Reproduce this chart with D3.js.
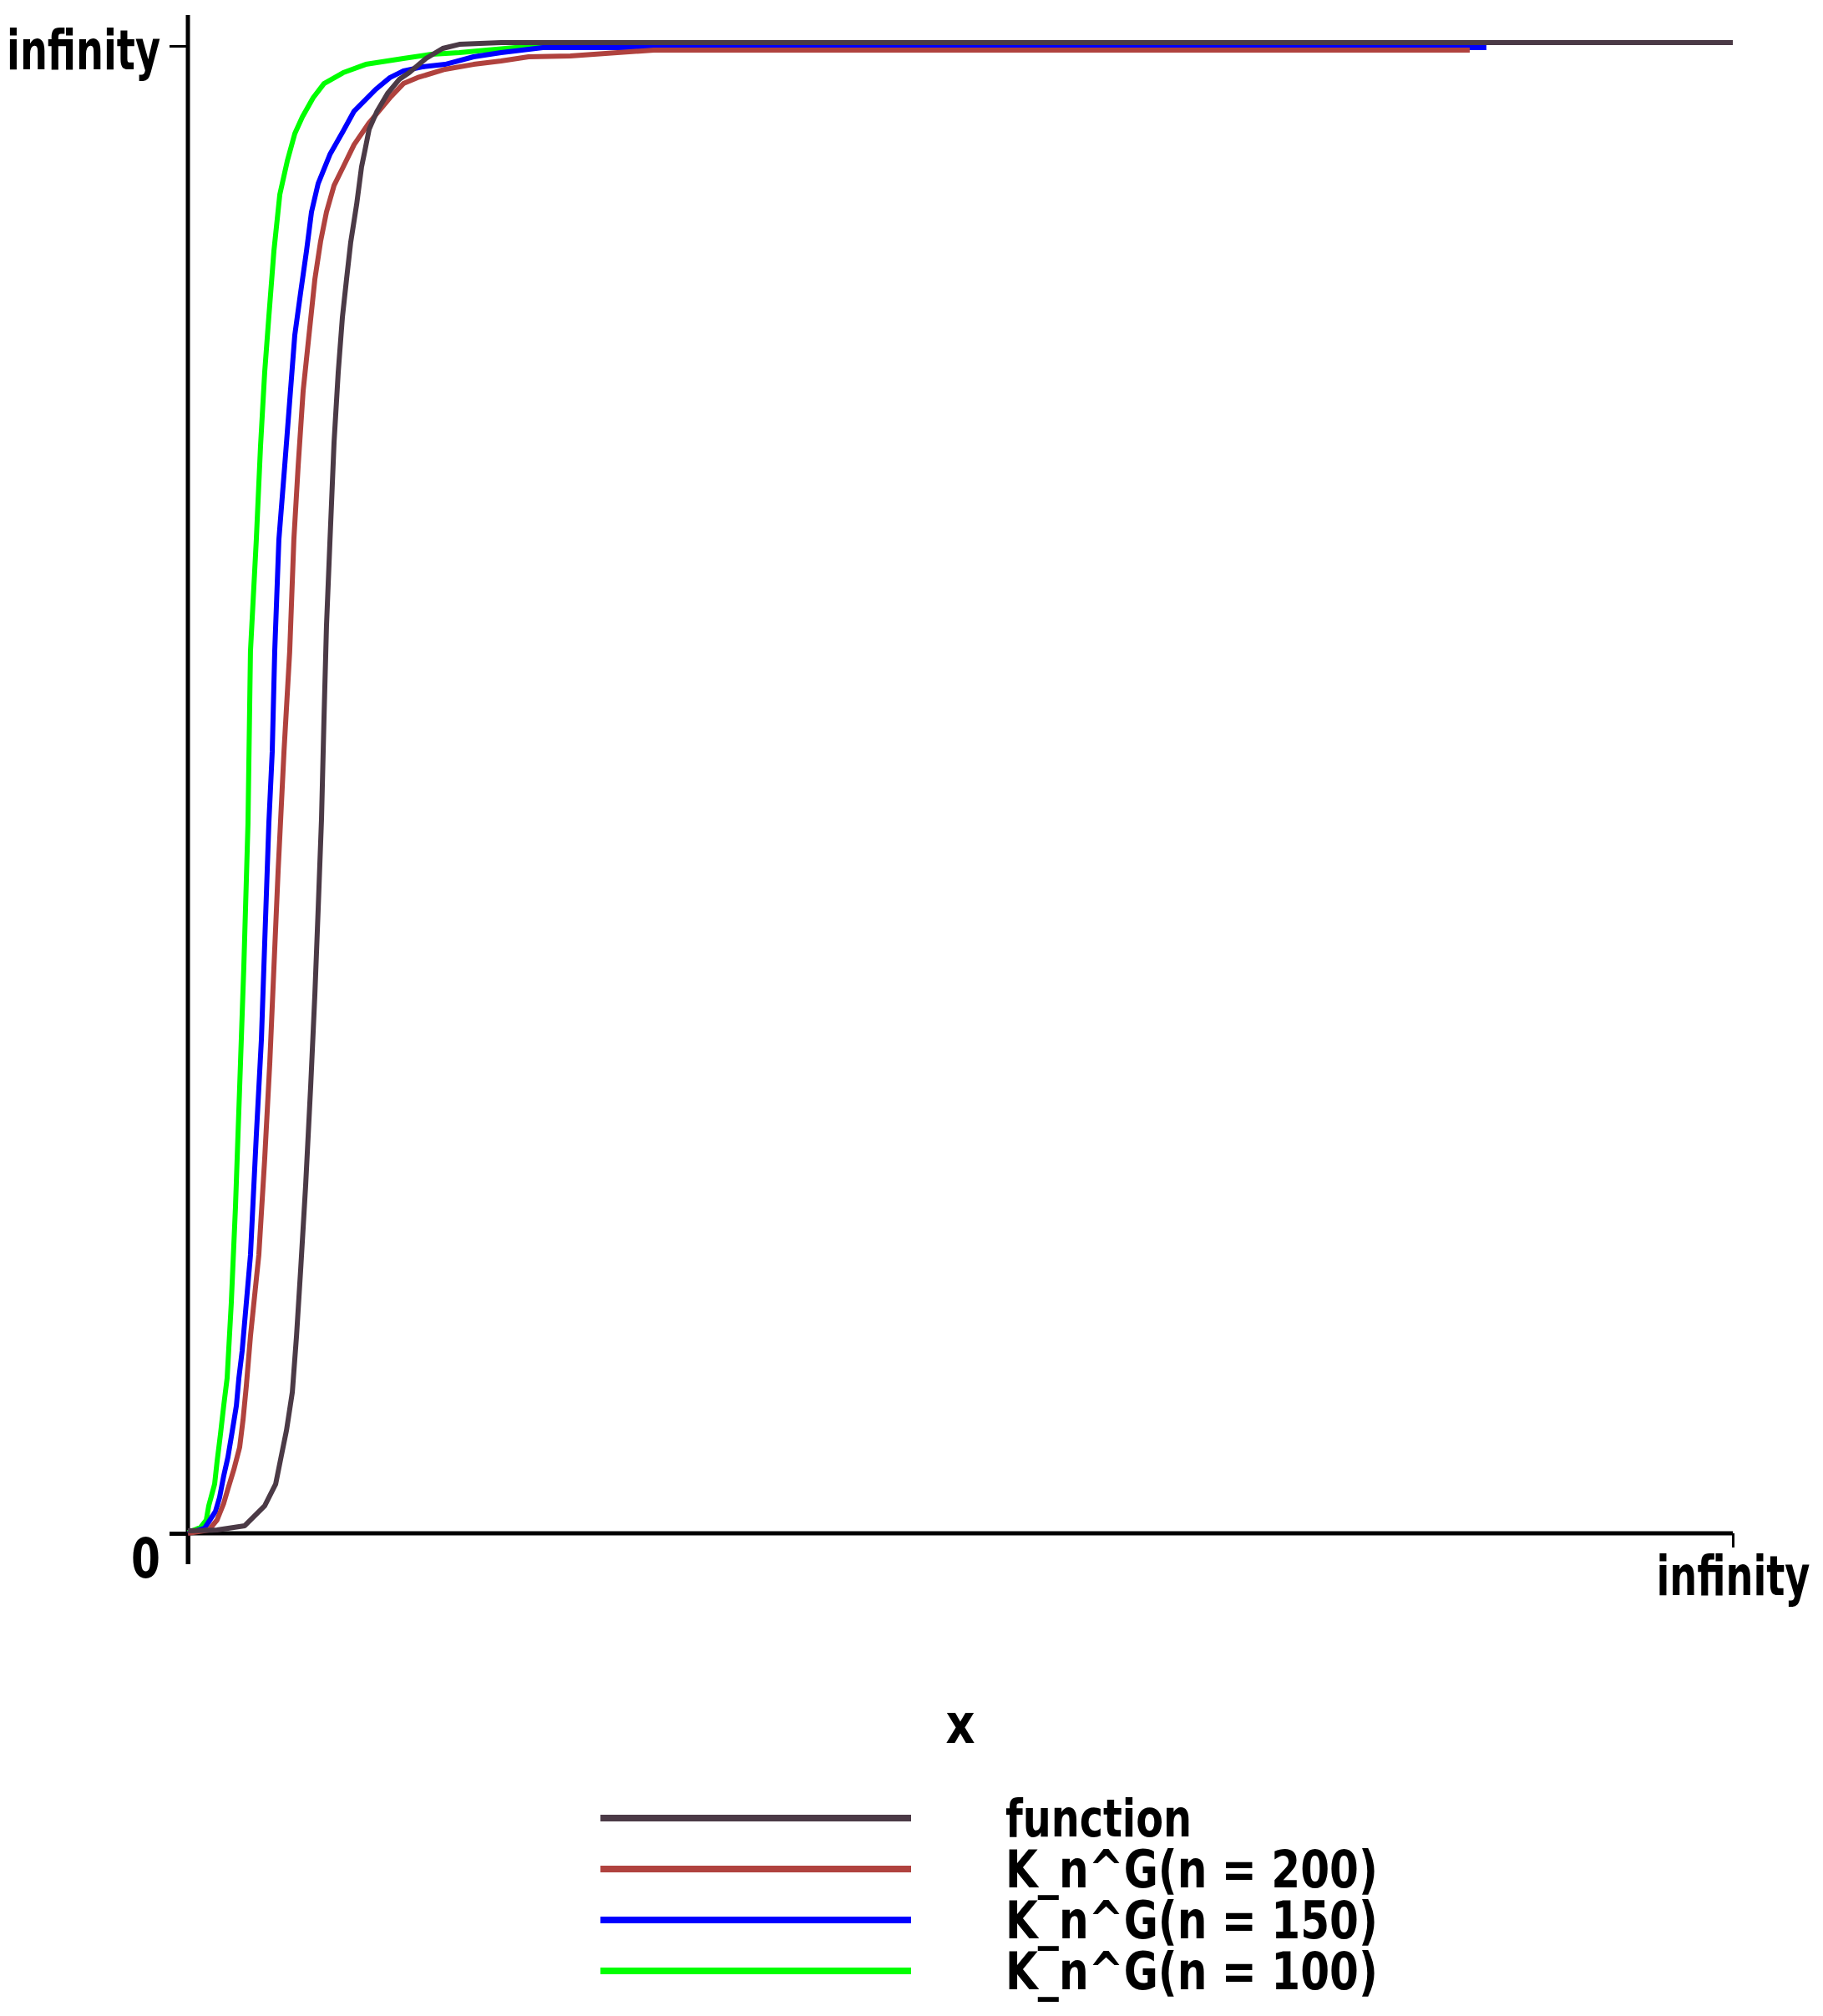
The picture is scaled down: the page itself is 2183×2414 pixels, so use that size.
<!DOCTYPE html>
<meta charset="utf-8">
<style>
  body { margin: 0; background: #fff; }
  text {
    font-family: "DejaVu Sans Condensed", "DejaVu Sans", sans-serif;
    font-weight: bold;
    font-size: 66px;
    fill: #000;
  }
  .legend text { font-size: 62px; }
  .curve { fill: none; stroke-width: 6; stroke-linejoin: round; }
</style>
<body>
<script src="https://d3js.org/d3.v7.min.js"></script>
<script>

// series (x and y both run 0 .. "infinity" = 100)
const seriesNames = ["function", "K_n^G(n = 200)", "K_n^G(n = 150)", "K_n^G(n = 100)"];

const fnX = [0, 1.89, 3.68, 4.97, 5.68, 6.05, 6.38, 6.76, 7.03, 7.30, 7.62, 7.95, 8.22, 8.43, 8.65, 8.81, 8.97, 9.19, 9.46, 9.73, 10.0, 10.27, 10.54, 10.92, 11.24, 11.46, 11.73, 12.22, 12.92, 13.68, 14.32, 15.41, 16.49, 17.57, 20.27, 100];
const fnY = [0.17, 0.22, 0.51, 1.85, 3.31, 5.22, 6.91, 9.49, 13.25, 17.74, 23.36, 30.10, 36.27, 41.89, 48.06, 54.80, 60.98, 66.59, 73.33, 78.05, 81.75, 84.33, 86.81, 89.33, 91.86, 92.98, 94.39, 95.56, 96.80, 97.75, 98.20, 99.16, 99.83, 100.11, 100.22, 100.22];

const k200X = [0, 1.35, 1.89, 2.32, 2.59, 2.97, 3.35, 3.57, 3.78, 4.05, 4.59, 4.97, 5.30, 5.57, 5.84, 6.22, 6.59, 6.86, 7.14, 7.46, 7.84, 8.22, 8.59, 8.97, 9.46, 10.05, 10.76, 11.73, 13.08, 13.95, 14.86, 16.65, 18.49, 20.27, 22.05, 24.76, 30.16, 82.97];
const k200Y = [0, 0.22, 0.90, 2.02, 2.98, 4.27, 5.78, 7.64, 9.88, 13.25, 18.70, 25.15, 31.61, 38.07, 44.53, 52.55, 59.29, 66.82, 71.81, 76.81, 80.57, 84.33, 86.86, 88.83, 90.62, 91.86, 93.37, 94.83, 96.52, 97.47, 97.87, 98.43, 98.76, 98.99, 99.27, 99.33, 99.72, 99.72];

const k150X = [0, 1.08, 1.78, 2.05, 2.32, 2.59, 2.86, 3.14, 3.30, 3.51, 4.05, 4.43, 4.76, 4.97, 5.24, 5.46, 5.62, 5.89, 6.27, 6.59, 6.92, 7.30, 7.68, 8.00, 8.43, 9.19, 10.05, 10.76, 12.16, 13.08, 13.95, 15.24, 16.65, 18.49, 20.27, 22.97, 84.05];
const k150Y = [0, 0.34, 1.46, 2.41, 3.87, 5.11, 6.79, 8.59, 10.44, 12.24, 18.70, 26.78, 33.24, 39.64, 47.73, 52.56, 59.29, 66.82, 71.81, 76.14, 80.57, 83.44, 86.24, 88.83, 90.74, 92.70, 94.27, 95.62, 97.08, 97.87, 98.32, 98.60, 98.76, 99.27, 99.55, 99.89, 99.89];

const k100X = [0, 0.81, 1.19, 1.35, 1.73, 1.89, 2.11, 2.32, 2.54, 2.81, 3.08, 3.35, 3.62, 3.89, 4.05, 4.43, 4.70, 4.97, 5.24, 5.57, 5.95, 6.43, 6.92, 7.41, 8.11, 8.81, 10.05, 11.51, 13.95, 15.78, 17.57, 19.35, 21.19, 83.46];
const k100Y = [0.06, 0.39, 0.90, 1.85, 3.31, 4.83, 6.68, 8.59, 10.44, 15.50, 21.95, 29.98, 38.07, 47.73, 59.29, 66.82, 73.05, 78.05, 81.81, 86.24, 90.01, 92.25, 94.10, 95.23, 96.52, 97.47, 98.20, 98.76, 99.16, 99.44, 99.55, 99.72, 99.89, 99.89];

const tickValues = [0, 100];
const tickLabels = ["0", "infinity"];
const xTitle = "x";

const colors = ["#4b3a46", "#b0423e", "#0000ff", "#00ff00"];

const width = 2183, height = 2414;

const svg = d3.select('body')
              .append('svg')
              .attr('width', width)
              .attr('height', height);

const x = d3.scaleLinear().domain([0, 100]).range([225, 2075]);
const y = d3.scaleLinear().domain([0, 100]).range([1836, 55]);

const series = [
  {name: seriesNames[0], xs: fnX, ys: fnY, color: colors[0]},
  {name: seriesNames[1], xs: k200X, ys: k200Y, color: colors[1]},
  {name: seriesNames[2], xs: k150X, ys: k150Y, color: colors[2]},
  {name: seriesNames[3], xs: k100X, ys: k100Y, color: colors[3]}
];

const line = d3.line()
               .x(d => x(d[0]))
               .y(d => y(d[1]));

// narrow bold lettering: squeeze each text to the width it has in the picture
function squeeze(sel, w) {
  sel.each(function(d, i) {
    const t = d3.select(this);
    const n = this.getComputedTextLength();
    const target = typeof w === 'function' ? w(d, i) : w;
    const tx = +t.attr('x') || 0, ty = +t.attr('y') || 0;
    t.attr('x', 0).attr('y', 0).attr('dy', 0)
     .attr('transform', 'translate(' + tx + ',' + ty + ') scale(' + (target / n) + ',1)');
  });
}

// axes
const xAxis = svg.append('g')
   .attr('transform', 'translate(0,' + y(0) + ')')
   .call(d3.axisBottom(x)
           .tickValues(tickValues)
           .tickSize(17)
           .tickSizeOuter(0)
           .tickFormat((d, i) => i == 0 ? '' : tickLabels[i]));

xAxis.select('.domain').remove();
xAxis.selectAll('.tick line').attr('stroke-width', 3);
xAxis.selectAll('.tick').filter(d => d == 0).select('line').attr('y2', 37).attr('stroke-width', 5);
xAxis.selectAll('.tick text')
     .style('font-size', '66px')
     .style('font-family', null)
     .attr('dy', 0)
     .attr('y', 74)
     .call(squeeze, 184);

const yAxis = svg.append('g')
   .attr('transform', 'translate(' + x(0) + ',0)')
   .call(d3.axisLeft(y)
           .tickValues(tickValues)
           .tickSize(22)
           .tickSizeOuter(0)
           .tickFormat((d, i) => tickLabels[i]));

yAxis.select('.domain').remove();
yAxis.selectAll('.tick line').attr('stroke-width', 3);
yAxis.selectAll('.tick').filter(d => d == 0).select('line').attr('stroke-width', 5);
yAxis.selectAll('.tick text')
     .style('font-size', '66px')
     .style('font-family', null)
     .attr('dy', 0)
     .attr('x', -33)
     .attr('y', d => d == 0 ? 52 : 27)
     .call(squeeze, d => d == 0 ? 35 : 184);

svg.append('line')
   .attr('x1', x(0)).attr('x2', x(100))
   .attr('y1', y(0)).attr('y2', y(0))
   .attr('stroke', '#000')
   .attr('stroke-width', 5);

svg.append('line')
   .attr('x1', x(0)).attr('x2', x(0))
   .attr('y1', 18).attr('y2', y(0) + 37)
   .attr('stroke', '#000')
   .attr('stroke-width', 5);

// curves, function on top
svg.append('g')
   .selectAll('path')
   .data(series.slice().reverse())
   .enter().append('path')
    .attr('class', 'curve')
    .attr('stroke', d => d.color)
    .attr('d', d => line(d.xs.map((v, i) => [v, d.ys[i]])));

svg.append('text')
   .attr('x', (x(0) + x(100)) / 2)
   .attr('y', 2087)
   .attr('text-anchor', 'middle')
   .text(xTitle)
   .call(squeeze, 35);

// legend
const legend = svg.append('g')
   .attr('class', 'legend')
   .selectAll('g')
   .data(series)
   .enter().append('g')
    .attr('transform', (d, i) => 'translate(0,' + (2177 + i * 61) + ')');

legend.append('line')
      .attr('x1', 719).attr('x2', 1091)
      .attr('stroke', d => d.color)
      .attr('stroke-width', 8);

legend.append('text')
      .attr('x', 1204)
      .attr('y', 22)
      .text(d => d.name)
      .call(squeeze, (d, i) => i == 0 ? 223 : 446);

</script>
</body>
</html>
